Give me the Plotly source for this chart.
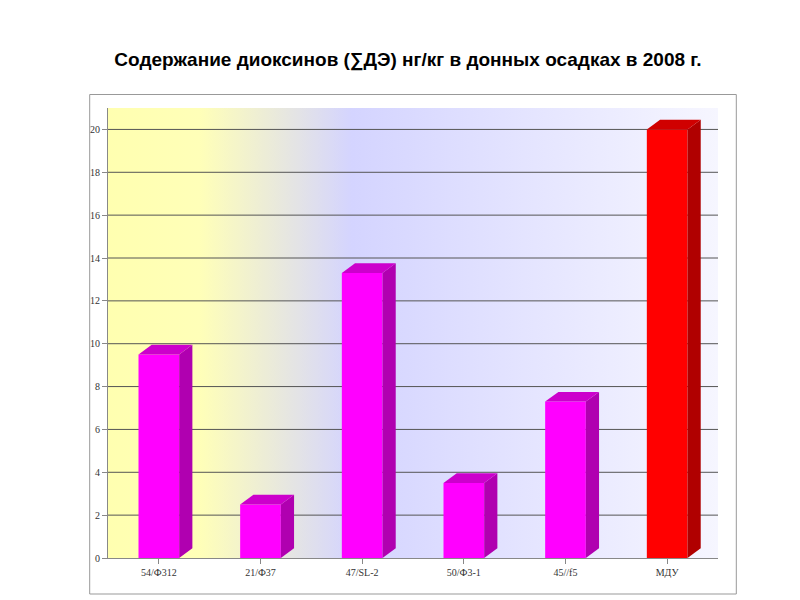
import plotly.graph_objects as go

categories = ["54/Ф312", "21/Ф37", "47/SL-2", "50/Ф3-1", "45//f5", "МДУ"]
values = [9.5, 2.5, 13.3, 3.5, 7.3, 20]
front_colors = ["#ff00ff"] * 5 + ["#ff0000"]
side_colors = ["#b000b0"] * 5 + ["#b00000"]
top_colors = ["#cc00cc"] * 5 + ["#d00000"]
grid_values = list(range(2, 21, 2))

w = 0.4     # bar width in category units
dx = 0.13   # depth offset x
dy = 0.45   # depth offset y
xs = list(range(len(categories)))

fig = go.Figure()

# background gradient wall
fig.add_trace(go.Scatter(
    x=[-0.5, 5.5, 5.5, -0.5, -0.5], y=[0, 0, 21, 21, 0],
    fill="toself", mode="lines", line=dict(width=0),
    fillgradient=dict(type="horizontal",
                      colorscale=[[0, "#ffffb0"], [0.15, "#ffffb8"], [0.4, "#d4d4ff"], [1, "#f6f6ff"]]),
    hoverinfo="skip", showlegend=False))

# grid lines on top of the wall
for g in grid_values:
    fig.add_trace(go.Scatter(x=[-0.5, 5.5], y=[g, g], mode="lines",
                             line=dict(color="#555", width=1), hoverinfo="skip", showlegend=False))

for x, v, fc, sc, tc in zip(xs, values, front_colors, side_colors, top_colors):
    r, l = x + w / 2, x - w / 2
    fig.add_trace(go.Scatter(x=[l, r, r, l, l], y=[0, 0, v, v, 0],
                             fill="toself", fillcolor=fc, mode="lines", line=dict(width=0),
                             name=categories[x], showlegend=False))
    fig.add_trace(go.Scatter(x=[r, r + dx, r + dx, r, r], y=[0, dy, v + dy, v, 0],
                             fill="toself", fillcolor=sc, mode="lines", line=dict(width=0),
                             hoverinfo="skip", showlegend=False))
    fig.add_trace(go.Scatter(x=[l, l + dx, r + dx, r, l], y=[v, v + dy, v + dy, v, v],
                             fill="toself", fillcolor=tc, mode="lines", line=dict(width=0),
                             hoverinfo="skip", showlegend=False))

fig.update_layout(
    width=800, height=600, paper_bgcolor="white", plot_bgcolor="white",
    margin=dict(l=100, r=90, t=100, b=50),
    title=dict(text="<b>Содержание диоксинов (∑ДЭ) нг/кг в донных осадках в 2008 г.</b>",
               x=0.5, y=0.925, xanchor="center",
               font=dict(family="Liberation Sans, Arial", size=19, color="black")),
    xaxis=dict(range=[-0.5, 5.5], tickvals=xs, ticktext=categories, showgrid=False,
               showline=True, linecolor="#888", ticks="outside", tickcolor="#888", zeroline=False,
               tickfont=dict(family="Liberation Serif, Times New Roman", size=10, color="#333")),
    yaxis=dict(range=[0, 21], dtick=2, showgrid=False,
               showline=True, linecolor="#888", ticks="outside", tickcolor="#888", zeroline=False,
               tickfont=dict(family="Liberation Serif, Times New Roman", size=10, color="#333")),
    shapes=[dict(type="rect", xref="paper", yref="paper", x0=-0.03, x1=1.03, y0=-0.08, y1=1.03,
                 line=dict(color="#999", width=1))],
)

fig.write_html("out.html")
